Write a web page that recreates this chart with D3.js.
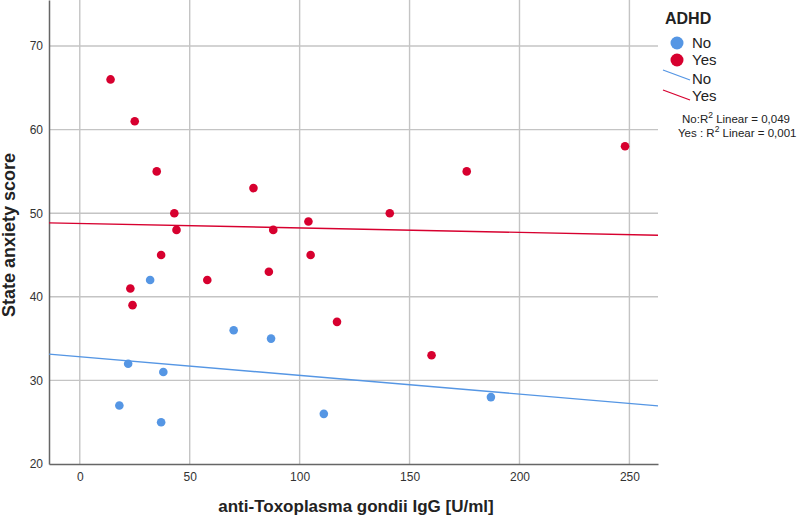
<!DOCTYPE html>
<meta charset="utf-8">
<head>
  <title>State anxiety vs anti-Toxoplasma IgG</title>
</head>
<style>
body { margin: 0; background: #fff; }
text { font-family: Arial, "Liberation Sans", sans-serif; fill: #222; }
.grid line { stroke: #c4c4c4; stroke-width: 1.4; }
.axis path, .axis line { stroke: #666; }
.tick text { font-size: 12px; fill: #333; }
.title { font-weight: bold; }
</style>
<body>
<svg width="798" height="518"></svg>
<script src="https://cdnjs.cloudflare.com/ajax/libs/d3/7.8.5/d3.min.js"></script>
<script>
// ADHD = No
var noIgG   = [32, 22, 38, 18, 37, 70, 87, 111, 187];
var noScore = [42, 32, 31, 27, 25, 36, 35, 26, 28];
// ADHD = Yes
var yesIgG   = [14, 25, 35, 43, 44, 37, 79, 88, 104, 105, 23, 24, 58, 86, 117, 141, 176, 248, 160];
var yesScore = [66, 61, 55, 50, 48, 45, 53, 48, 49, 45, 41, 39, 42, 43, 37, 50, 55, 58, 33];

var xTicks = [0, 50, 100, 150, 200, 250];
var yTicks = [20, 30, 40, 50, 60, 70];
var groups = ["No", "Yes"];
var r2Prefix = ["No:", "Yes : "];
var r2Values = ["0,049", "0,001"];
var colors = { No: "#5596e4", Yes: "#d7002f" };

var svg = d3.select("svg");
var pLeft = 49, pRight = 658, pTop = 0, pBottom = 464;

var x = d3.scaleLinear().domain([-14, 263]).range([pLeft, pRight]);
var y = d3.scaleLinear().domain([20, 75.5]).range([pBottom, pTop]);

// grid
var grid = svg.append("g").attr("class", "grid");
grid.selectAll(".gx").data(xTicks).enter().append("line")
  .attr("x1", d => x(d)).attr("x2", d => x(d))
  .attr("y1", pTop).attr("y2", pBottom);
grid.selectAll(".gy").data(yTicks.slice(1)).enter().append("line")
  .attr("x1", pLeft).attr("x2", pRight)
  .attr("y1", d => y(d)).attr("y2", d => y(d));

// axes
svg.append("g").attr("class", "axis")
  .attr("transform", "translate(0," + pBottom + ")")
  .call(d3.axisBottom(x).tickValues(xTicks).tickSize(0).tickPadding(8))
  .call(g => g.select(".domain").attr("stroke-width", 1.5));
svg.append("g").attr("class", "axis")
  .attr("transform", "translate(" + pLeft + ",0)")
  .call(d3.axisLeft(y).tickValues(yTicks).tickSize(0).tickPadding(6))
  .call(g => g.select(".domain").attr("stroke-width", 1.5));

// fit lines (least squares per group)
function fit(xs, ys) {
  var mx = d3.mean(xs), my = d3.mean(ys), sxy = 0, sxx = 0;
  xs.forEach(function(v, i) { sxy += (v - mx) * (ys[i] - my); sxx += (v - mx) * (v - mx); });
  var b = sxy / sxx;
  return function(v) { return my + b * (v - mx); };
}
var data = {
  No: noIgG.map((v, i) => [v, noScore[i]]),
  Yes: yesIgG.map((v, i) => [v, yesScore[i]])
};
var fits = { No: fit(noIgG, noScore), Yes: fit(yesIgG, yesScore) };

groups.forEach(function(gname) {
  var f = fits[gname], dom = x.domain();
  svg.append("line")
    .attr("x1", x(dom[0])).attr("y1", y(f(dom[0])))
    .attr("x2", x(dom[1])).attr("y2", y(f(dom[1])))
    .attr("stroke", colors[gname]).attr("stroke-width", 1.4);
});

groups.forEach(function(gname) {
  svg.append("g").selectAll("circle")
    .data(data[gname]).enter().append("circle")
    .attr("cx", d => x(d[0])).attr("cy", d => y(d[1]))
    .attr("r", 4.3).attr("fill", colors[gname]);
});

// axis titles
svg.append("text").attr("class", "title")
  .attr("text-anchor", "middle").attr("font-size", 18)
  .attr("transform", "translate(15,235) rotate(-90)")
  .text("State anxiety score");
svg.append("text").attr("class", "title")
  .attr("text-anchor", "middle").attr("font-size", 17)
  .attr("x", 356).attr("y", 512)
  .text("anti-Toxoplasma gondii IgG [U/ml]");

// legend
var lg = svg.append("g");
lg.append("text").attr("class", "title").attr("font-size", 16).attr("x", 665).attr("y", 24).text("ADHD");
groups.forEach(function(gname, i) {
  lg.append("circle").attr("cx", 677).attr("cy", 43 + i * 17).attr("r", 6.5).attr("fill", colors[gname]);
  lg.append("text").attr("x", 692).attr("y", 48 + i * 17).attr("font-size", 15).text(gname);
  lg.append("line").attr("x1", 663).attr("y1", 70 + i * 20).attr("x2", 690).attr("y2", 80 + i * 20)
    .attr("stroke", colors[gname]).attr("stroke-width", 1.3);
  lg.append("text").attr("x", 692).attr("y", 84 + i * 17).attr("font-size", 15).text(gname);
});
r2Prefix.forEach(function(p, i) {
  var t = lg.append("text").attr("x", i === 0 ? 682 : 678).attr("y", 123 + i * 13.5)
    .attr("font-size", 11.5);
  t.append("tspan").text(p + "R");
  t.append("tspan").attr("dy", -5).attr("font-size", 8.5).text("2");
  t.append("tspan").attr("dy", 5).text(" Linear = " + r2Values[i]);
});
</script>
</body>
</html>
